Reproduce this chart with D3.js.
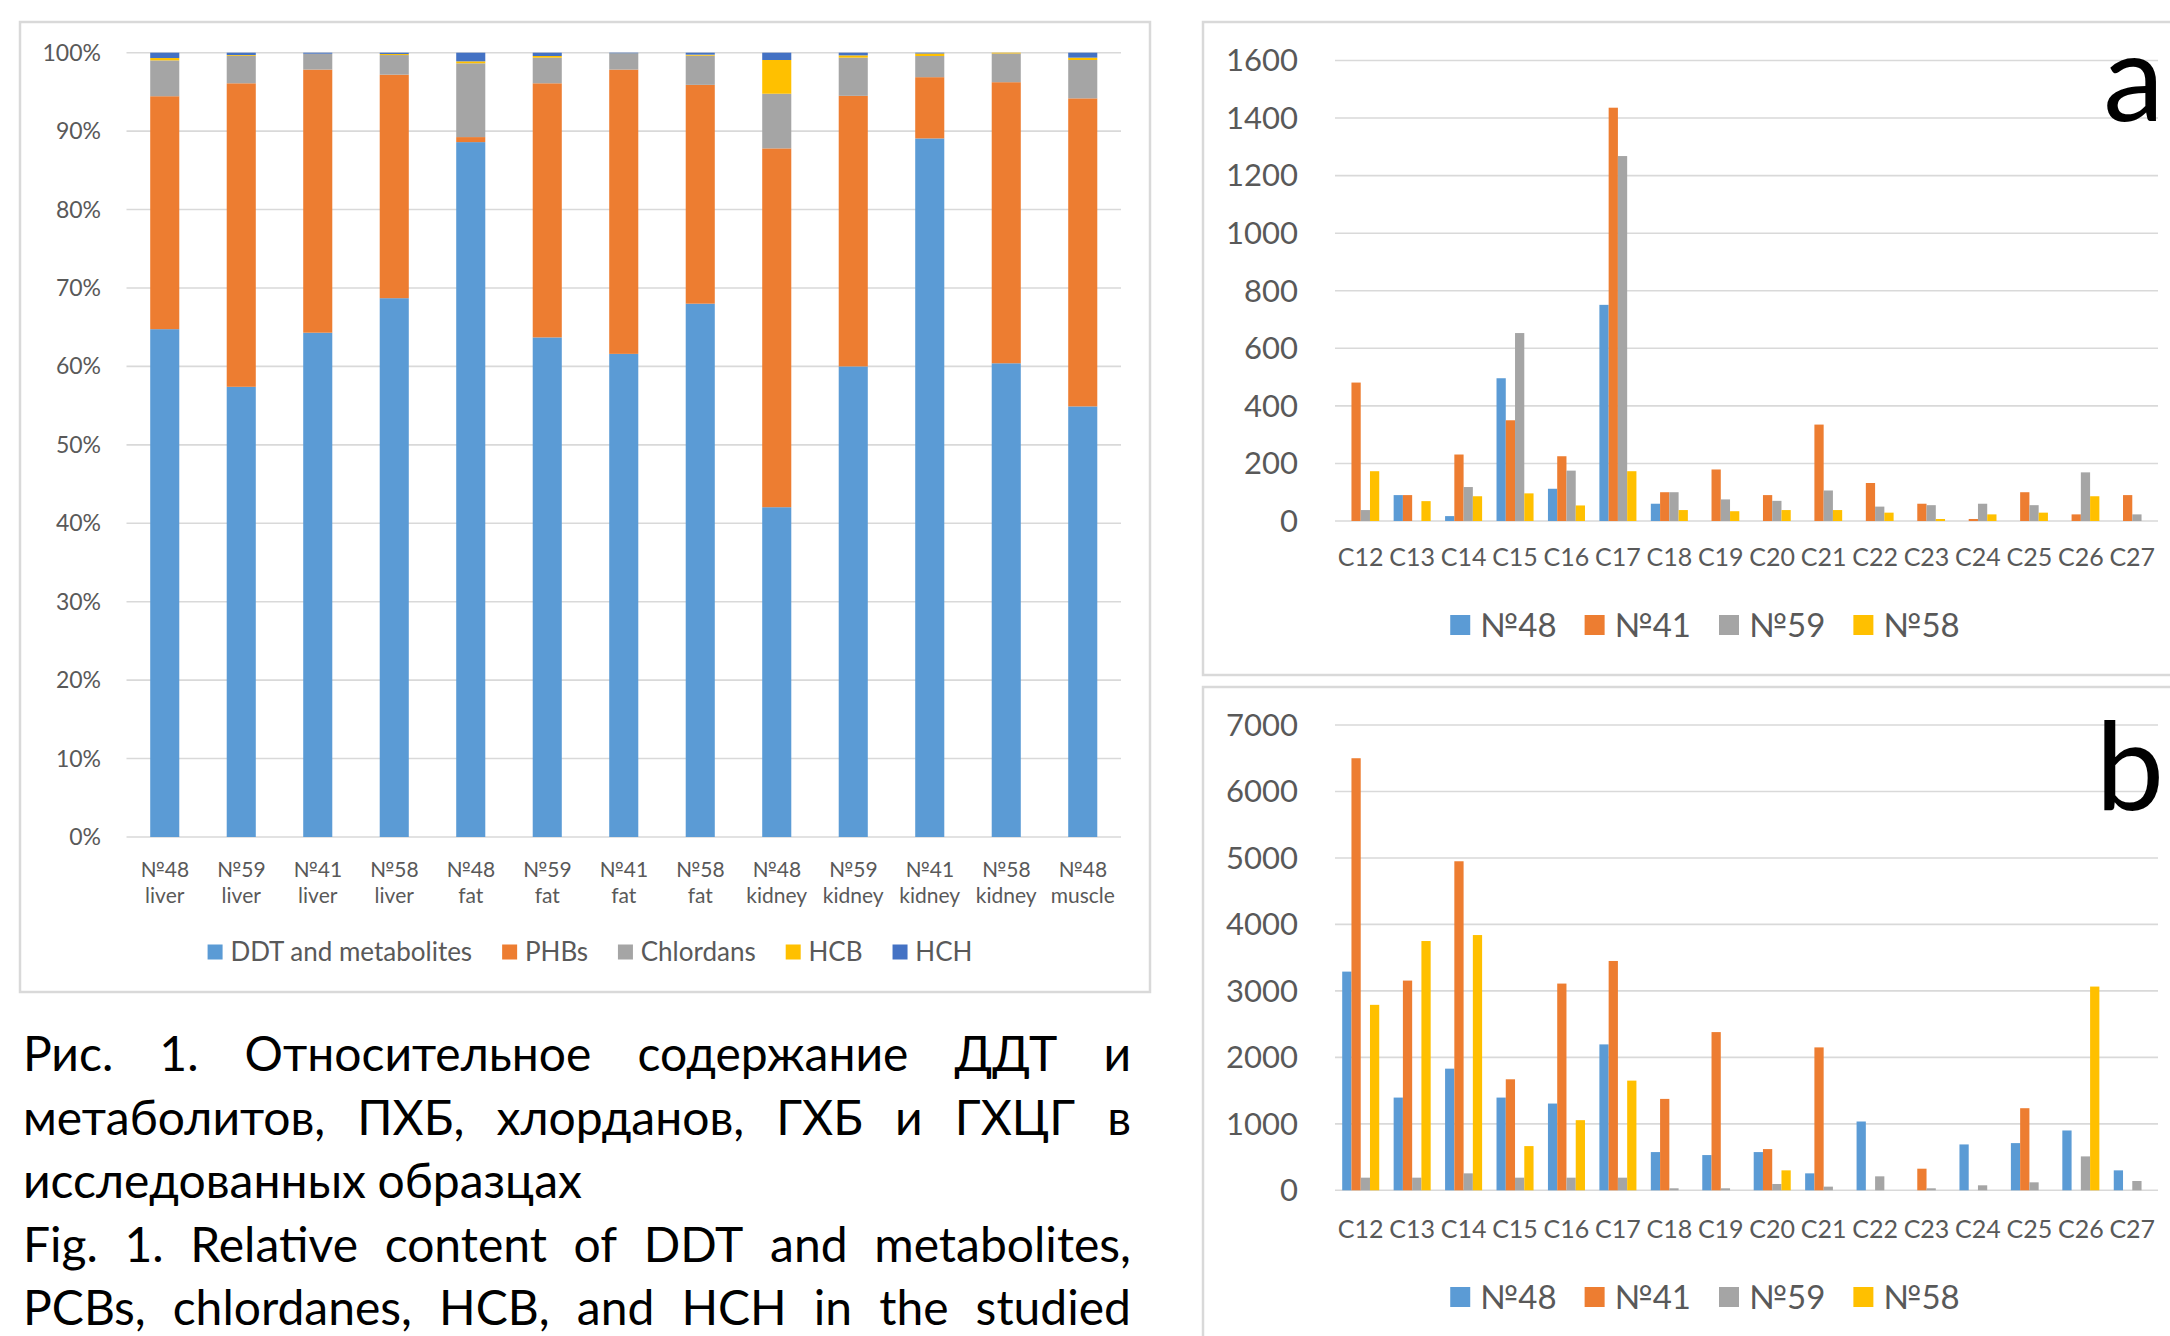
<!DOCTYPE html>
<html lang="ru">
<head>
  <meta charset="UTF-8">
  <title>Fig. 1</title>
  <style>
    body { margin: 0; background: #fff; }
    svg { display: block; font-family: Lato, "Noto Sans", sans-serif; }
  </style>
</head>
<body>

<svg width="2170" height="1336" viewBox="0 0 2170 1336"></svg>

<script src="https://d3js.org/d3.v7.min.js"></script>
<script>

// ---- data: left panel (relative content, %) ----
let samples = ["№48 liver", "№59 liver", "№41 liver", "№58 liver", "№48 fat", "№59 fat", "№41 fat",
               "№58 fat", "№48 kidney", "№59 kidney", "№41 kidney", "№58 kidney", "№48 muscle"];
let groups = ["DDT and metabolites", "PHBs", "Chlordans", "HCB", "HCH"];
let ddt       = [64.75, 57.4, 64.3, 68.7, 88.6, 63.7, 61.6, 68.0, 42.05, 60.0, 89.07, 60.4, 54.9];
let phbs      = [29.7, 38.7, 33.55, 28.5, 0.64, 32.4, 36.25, 27.9, 45.75, 34.5, 7.81, 35.84, 39.28];
let chlordans = [4.57, 3.5, 2.02, 2.5, 9.41, 3.27, 2.02, 3.72, 6.97, 4.87, 2.7, 3.66, 4.89];
let hcb       = [0.3, 0.1, 0.0, 0.13, 0.25, 0.21, 0.03, 0.13, 4.3, 0.29, 0.32, 0.1, 0.3];
let hch       = [0.68, 0.3, 0.13, 0.17, 1.1, 0.42, 0.1, 0.25, 0.93, 0.34, 0.1, 0.0, 0.63];
let pctTicks  = [0, 10, 20, 30, 40, 50, 60, 70, 80, 90, 100];

// ---- data: right panels (C12..C27) ----
let homologs = ["C12", "C13", "C14", "C15", "C16", "C17", "C18", "C19", "C20", "C21", "C22", "C23", "C24", "C25", "C26", "C27"];
let animals = ["№48", "№41", "№59", "№58"];

let a48 = [0, 90, 17, 496, 112, 751, 60, 0, 0, 0, 0, 0, 0, 0, 0, 0];
let a41 = [481, 90, 231, 350, 225, 1436, 100, 179, 90, 335, 132, 60, 7, 100, 23, 90];
let a59 = [38, 0, 118, 653, 175, 1268, 100, 75, 70, 106, 50, 55, 60, 55, 169, 23];
let a58 = [173, 69, 86, 96, 54, 173, 38, 34, 38, 38, 29, 7, 23, 29, 86, 0];
let aTicks = [0, 200, 400, 600, 800, 1000, 1200, 1400, 1600];

let b48 = [3290, 1395, 1830, 1395, 1305, 2195, 575, 530, 575, 255, 1035, 0, 690, 710, 900, 300];
let b41 = [6500, 3155, 4950, 1670, 3110, 3450, 1375, 2380, 620, 2150, 0, 325, 0, 1235, 0, 0];
let b59 = [190, 190, 255, 190, 190, 190, 30, 30, 95, 55, 210, 30, 75, 120, 510, 140];
let b58 = [2790, 3750, 3840, 665, 1055, 1650, 0, 0, 300, 0, 0, 0, 0, 0, 3065, 0];
let bTicks = [0, 1000, 2000, 3000, 4000, 5000, 6000, 7000];

let captionLines = [
  { words: "Рис. 1. Относительное содержание ДДТ и", justify: true },
  { words: "метаболитов, ПХБ, хлорданов, ГХБ и ГХЦГ в", justify: true },
  { words: "исследованных образцах", justify: false },
  { words: "Fig. 1. Relative content of DDT and metabolites,", justify: true },
  { words: "PCBs, chlordanes, HCB, and HCH in the studied", justify: true }
];

let stackColors = ["#5B9BD5", "#ED7D31", "#A5A5A5", "#FFC000", "#4472C4"];
let barColors = ["#5B9BD5", "#ED7D31", "#A5A5A5", "#FFC000"];
let gridColor = "#d9d9d9", textColor = "#595959";

let svg = d3.select("svg");

// centered legend helper
function legend(g, names, colors, cx, cy, box, fontSize, gap) {
  let items = g.selectAll("g.item").data(names).enter().append("g").attr("class", "item");
  items.append("rect").attr("width", box).attr("height", box).attr("y", cy - box / 2)
      .attr("fill", (d, i) => colors[i]);
  items.append("text").attr("x", box + fontSize * 0.3).attr("y", cy).attr("dy", "0.35em")
      .attr("font-size", fontSize).attr("fill", textColor).text(d => d);
  let widths = [];
  items.each(function() { widths.push(this.getBBox().width); });
  let total = d3.sum(widths) + gap * (names.length - 1);
  let x = cx - total / 2;
  items.attr("transform", (d, i) => {
    let t = "translate(" + x + ",0)";
    x += widths[i] + gap;
    return t;
  });
}

// ================= left panel: 100% stacked bars =================
svg.append("rect").attr("x", 20).attr("y", 22).attr("width", 1130).attr("height", 970)
    .attr("fill", "none").attr("stroke", gridColor).attr("stroke-width", 2.5);

let lx = d3.scaleBand().domain(samples).range([126.5, 1121]).paddingInner(0.62).paddingOuter(0.31);
let ly = d3.scaleLinear().domain([0, 100]).range([837, 52.7]);

let left = svg.append("g");
left.append("g").selectAll("line").data(pctTicks).enter().append("line")
    .attr("x1", 126.5).attr("x2", 1121)
    .attr("y1", d => ly(d)).attr("y2", d => ly(d))
    .attr("stroke", gridColor).attr("stroke-width", 1.6);
left.append("g").selectAll("text").data(pctTicks).enter().append("text")
    .attr("x", 101).attr("y", d => ly(d)).attr("dy", "0.35em").attr("text-anchor", "end")
    .attr("font-size", 23).attr("fill", textColor).text(d => d + "%");

let table = samples.map((s, i) => {
  let row = { sample: s };
  let vals = [ddt[i], phbs[i], chlordans[i], hcb[i], hch[i]];
  let tot = d3.sum(vals);
  groups.forEach((g, j) => row[g] = vals[j] / tot * 100);
  return row;
});
let stacked = d3.stack().keys(groups)(table);

left.append("g").selectAll("g").data(stacked).enter().append("g")
    .attr("fill", (d, i) => stackColors[i])
    .selectAll("rect").data(d => d).enter().append("rect")
    .attr("x", d => lx(d.data.sample)).attr("width", lx.bandwidth())
    .attr("y", d => ly(d[1])).attr("height", d => ly(d[0]) - ly(d[1]));

let xl = left.append("g").selectAll("text").data(samples).enter().append("text")
    .attr("text-anchor", "middle").attr("font-size", 21).attr("fill", textColor);
xl.append("tspan").attr("x", d => lx(d) + lx.bandwidth() / 2).attr("y", 877).text(d => d.split(" ")[0]);
xl.append("tspan").attr("x", d => lx(d) + lx.bandwidth() / 2).attr("y", 903).text(d => d.split(" ")[1]);

legend(left.append("g"), groups, stackColors, 590, 952, 15, 26, 30);

// ================= caption =================
let capSize = 48;
let cap = svg.append("g").attr("font-size", capSize).attr("fill", "#000");
let capX0 = 23, capX1 = 1131;
captionLines.forEach((line, li) => {
  let y = 1071 + li * 63.5;
  let words = line.words.split(" ");
  let nodes = words.map(w => cap.append("text").attr("y", y).text(w));
  let widths = nodes.map(n => n.node().getComputedTextLength());
  let space = capSize * 0.24;
  if (line.justify) space = (capX1 - capX0 - d3.sum(widths)) / (words.length - 1);
  let x = capX0;
  nodes.forEach((n, i) => { n.attr("x", x); x += widths[i] + space; });
});

// ================= right panels: grouped bars =================
function grouped(top, height, series, ticks, yMax, y0, yTop, labelY, legendY, letter, letterY) {
  let g = svg.append("g");
  g.append("rect").attr("x", 1203).attr("y", top).attr("width", 1100).attr("height", height)
      .attr("fill", "none").attr("stroke", gridColor).attr("stroke-width", 2.5);

  let x0 = d3.scaleBand().domain(homologs).range([1335, 2158]).paddingInner(0.28).paddingOuter(0.14);
  let x1 = d3.scaleBand().domain(animals).range([0, x0.bandwidth()]);
  let y = d3.scaleLinear().domain([0, yMax]).range([y0, yTop]);

  g.append("g").selectAll("line").data(ticks).enter().append("line")
      .attr("x1", 1335).attr("x2", 2158)
      .attr("y1", d => y(d)).attr("y2", d => y(d))
      .attr("stroke", gridColor).attr("stroke-width", 1.6);
  g.append("g").selectAll("text").data(ticks).enter().append("text")
      .attr("x", 1298).attr("y", d => y(d)).attr("dy", "0.35em").attr("text-anchor", "end")
      .attr("font-size", 31).attr("fill", textColor).text(d => d);

  let rows = homologs.map((h, i) => ({ h: h, vals: series.map(s => s[i]) }));
  g.append("g").selectAll("g").data(rows).enter().append("g")
      .attr("transform", d => "translate(" + x0(d.h) + ",0)")
      .selectAll("rect").data(d => d.vals).enter().append("rect")
      .attr("x", (d, i) => x1(animals[i])).attr("width", x1.bandwidth())
      .attr("y", d => y(d)).attr("height", d => y(0) - y(d))
      .attr("fill", (d, i) => barColors[i]);

  g.append("g").selectAll("text").data(homologs).enter().append("text")
      .attr("x", d => x0(d) + x0.bandwidth() / 2).attr("y", labelY).attr("text-anchor", "middle")
      .attr("font-size", 25).attr("fill", textColor).text(d => d);

  legend(g.append("g"), animals, barColors, 1705, legendY, 20, 33, 28);

  g.append("text").attr("x", 2164).attr("y", letterY).attr("text-anchor", "end")
      .attr("font-size", 122).attr("fill", "#000").text(letter);
}

grouped(22, 653, [a48, a41, a59, a58], aTicks, 1600, 521, 60.5, 566, 625, "a", 121);
grouped(687, 700, [b48, b41, b59, b58], bTicks, 7000, 1190.3, 725, 1238, 1297, "b", 810);

</script>

</body>
</html>
